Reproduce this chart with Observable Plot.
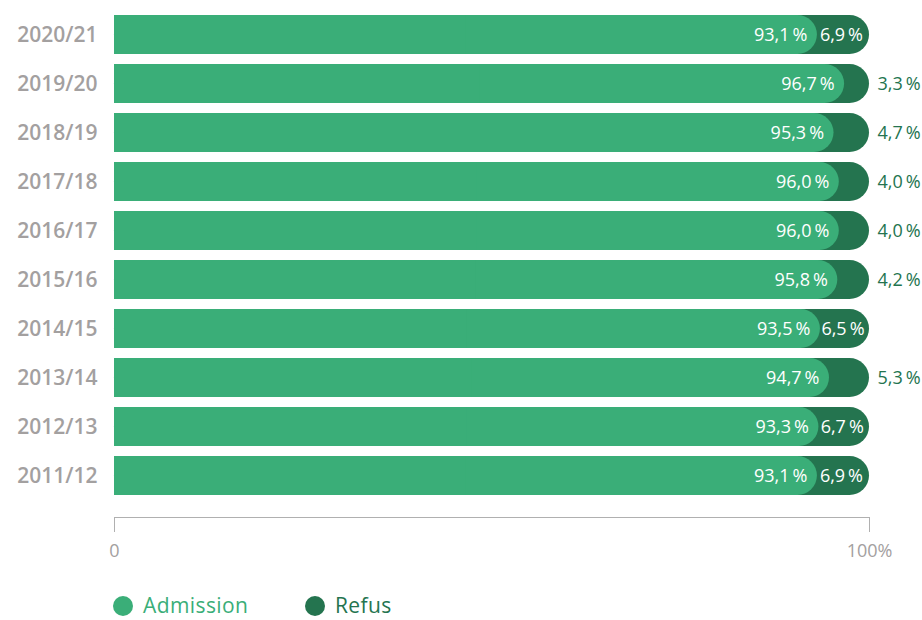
<!DOCTYPE html>
<html>
<head>
<meta charset="utf-8">
<script src="https://cdn.jsdelivr.net/npm/d3@7"></script>
<script src="https://cdn.jsdelivr.net/npm/@observablehq/plot@0.6"></script>
<style>
  html, body { margin: 0; padding: 0; background: #fff; overflow: hidden; }
  body { font-family: "Open Sans", sans-serif; width: 922px; height: 620px; position: relative; }
  #legend { position: absolute; left: 0; top: 593px; width: 922px; height: 24px; }
  .sw { position: absolute; top: 3px; width: 20px; height: 20px; border-radius: 50%; }
  .lb { position: absolute; top: 0px; font-size: 21px; line-height: 24px; letter-spacing: 0.4px; white-space: nowrap; }
</style>
</head>
<body>
<div id="chart"></div>
<div id="legend"></div>
<script>
const years = ["2020/21","2019/20","2018/19","2017/18","2016/17","2015/16","2014/15","2013/14","2012/13","2011/12"];
const admission = [93.1, 96.7, 95.3, 96.0, 96.0, 95.8, 93.5, 94.7, 93.3, 93.1];
const refus = [6.9, 3.3, 4.7, 4.0, 4.0, 4.2, 6.5, 5.3, 6.7, 6.9];
const seriesNames = ["Admission", "Refus"];
const xTicks = [0, 100];
const xTickLabels = ["0", "100%"];

const LIGHT = "#3aae78";
const DARK = "#24744f";
const GRAY = "#a3a0a0";

const rows = years.map((y, i) => ({year: y, adm: admission[i], ref: refus[i]}));
const fmt = v => v.toFixed(1).replace(".", ",") + "\u2009%";
const R = 19.5;

const chart = Plot.plot({
  width: 922,
  height: 575,
  marginLeft: 114,
  marginRight: 53,
  marginTop: 3,
  marginBottom: 58,
  style: {fontFamily: "'Open Sans', sans-serif", background: "transparent"},
  x: {domain: [0, 100], axis: null, label: null},
  y: {domain: years, padding: 0.2, axis: null, label: null, insetBottom: 10},
  marks: [
    Plot.barX(rows, {y: "year", x1: 0, x2: 100, fill: DARK, rx: R}),
    Plot.barX(rows, {y: "year", x1: 0, x2: 50, fill: DARK}),
    Plot.barX(rows, {y: "year", x1: 0, x2: "adm", fill: LIGHT, rx: R}),
    Plot.barX(rows, {y: "year", x1: 0, x2: d => d.adm / 2, fill: LIGHT}),
    Plot.text(rows, {y: "year", x: "adm", text: d => fmt(d.adm), textAnchor: "end", dx: -10, fill: "white", fontSize: 18}),
    Plot.text(rows.filter(d => d.ref >= 6), {y: "year", x: d => d.adm + d.ref / 2, text: d => fmt(d.ref), dx: -2, fill: "white", fontSize: 18}),
    Plot.text(rows.filter(d => d.ref < 6), {y: "year", x: 100, text: d => fmt(d.ref), textAnchor: "start", dx: 8, fill: DARK, fontSize: 18}),
    Plot.axisY({tickSize: 0, tickPadding: 17, label: null, fontSize: 21, fontWeight: 600, fill: GRAY, style: {letterSpacing: "0.8px"}}),
    Plot.axisX({ticks: xTicks, tickSize: 15, tickPadding: 12, label: null, tickFormat: d => xTickLabels[xTicks.indexOf(d)], fontSize: 18, stroke: "#b0b0b0", fill: GRAY, style: {letterSpacing: "0.5px"}}),
    Plot.frame({anchor: "bottom", stroke: "#b0b0b0"})
  ]
});
document.getElementById("chart").append(chart);

const legend = document.getElementById("legend");
const legendPos = [[113, 143], [305, 335]];
const legendColors = [LIGHT, DARK];
seriesNames.forEach((name, i) => {
  const sw = document.createElement("span");
  sw.className = "sw";
  sw.style.left = legendPos[i][0] + "px";
  sw.style.background = legendColors[i];
  const lb = document.createElement("span");
  lb.className = "lb";
  lb.style.left = legendPos[i][1] + "px";
  lb.style.color = legendColors[i];
  lb.textContent = name;
  legend.append(sw, lb);
});
</script>
</body>
</html>
